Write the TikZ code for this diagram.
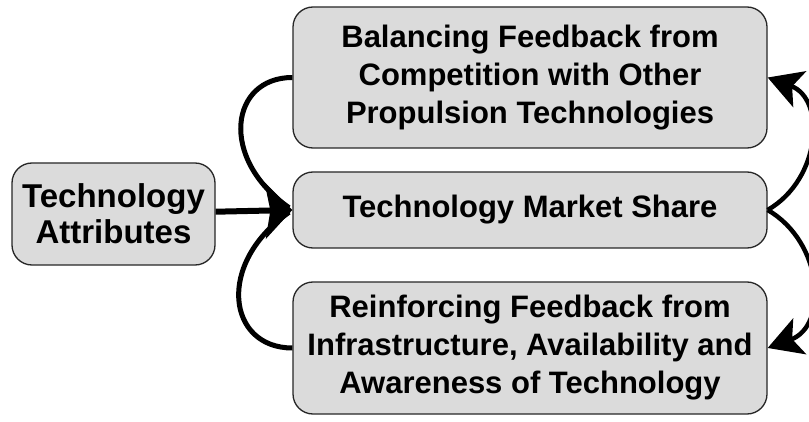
\documentclass[tikz,border=0pt]{standalone}
\usepackage{fontspec}
\setmainfont{Liberation Sans}
\usetikzlibrary{arrows.meta}
\begin{document}
\begin{tikzpicture}[x=1pt,y=1pt,
    box/.style={draw=black!85, line width=1.3pt, fill=black!14, rounded corners=20pt,
        align=center, inner sep=0pt, font=\bfseries\fontsize{31}{38}\selectfont},
    link/.style={line width=6pt, -{Stealth[length=27pt,width=56pt,inset=5pt]}},
    loopback/.style={line width=5pt, shorten >=4pt},
    rlink/.style={line width=4.5pt, -{Stealth[length=34pt,width=38pt,inset=8pt]}}]
    \useasboundingbox (0,0) rectangle (809,421);

    \node[box, minimum width=203pt, minimum height=102pt, font=\bfseries\fontsize{33}{36}\selectfont] (A) at (113.5,207) {Technology\\Attributes};
    \node[box, minimum width=474pt, minimum height=141pt] (B) at (530,343.5) {Balancing Feedback from\\Competition with Other\\Propulsion Technologies};
    \node[box, minimum width=474pt, minimum height=76pt] (M) at (530,211) {Technology Market Share};
    \node[box, minimum width=474pt, minimum height=132pt] (R) at (530,73) {Reinforcing Feedback from\\Infrastructure, Availability and\\Awareness of Technology};

    \draw (B.west) edge[loopback, out=180, in=145, out looseness=1.2, in looseness=1.75] (M.west);
    \draw (R.west) edge[loopback, out=180, in=215, out looseness=1.2, in looseness=1.75] (M.west);
    \draw (A) edge[link] (M.west);
    \draw (M.east) edge[rlink, out=30, in=-20, looseness=1.2] (B.east);
    \draw (M.east) edge[rlink, out=-30, in=20, looseness=1.2] (R.east);
\end{tikzpicture}
\end{document}
